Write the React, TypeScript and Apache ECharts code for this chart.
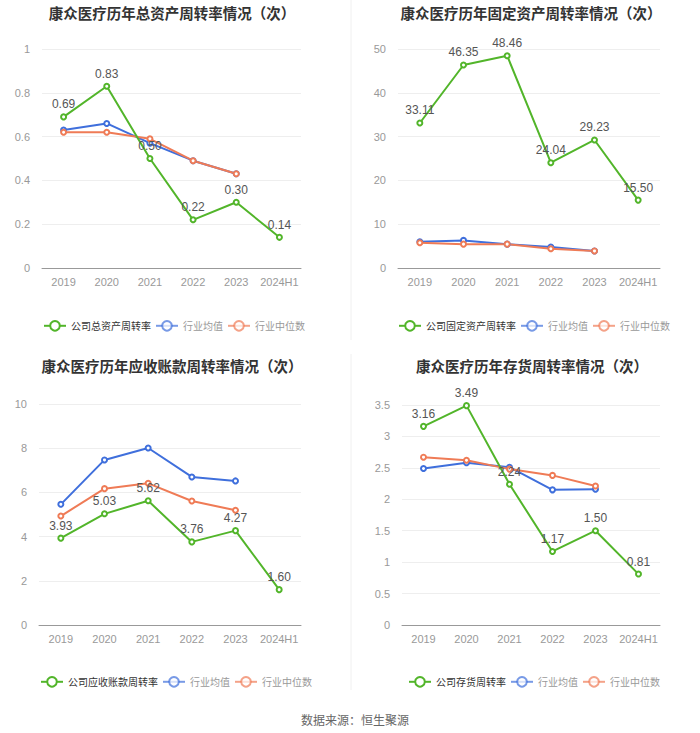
import React, { useEffect, useRef } from "react";
import * as echarts from "echarts";

const categories = ["2019", "2020", "2021", "2022", "2023", "2024H1"];

const titles = [
  "康众医疗历年总资产周转率情况（次）",
  "康众医疗历年固定资产周转率情况（次）",
  "康众医疗历年应收账款周转率情况（次）",
  "康众医疗历年存货周转率情况（次）",
];
const companyNames = ["公司总资产周转率", "公司固定资产周转率", "公司应收账款周转率", "公司存货周转率"];

const totalAsset = [0.69, 0.83, 0.5, 0.22, 0.3, 0.14];
const totalAssetAvg = [0.63, 0.66, 0.57, 0.49, 0.43];
const totalAssetMedian = [0.62, 0.62, 0.59, 0.49, 0.43];

const fixedAsset = [33.11, 46.35, 48.46, 24.04, 29.23, 15.5];
const fixedAssetAvg = [6.0, 6.3, 5.45, 4.8, 3.9];
const fixedAssetMedian = [5.75, 5.45, 5.45, 4.4, 3.9];

const receivable = [3.93, 5.03, 5.62, 3.76, 4.27, 1.6];
const receivableAvg = [5.46, 7.47, 8.01, 6.7, 6.52];
const receivableMedian = [4.93, 6.17, 6.41, 5.61, 5.19];

const inventory = [3.16, 3.49, 2.24, 1.17, 1.5, 0.81];
const inventoryAvg = [2.49, 2.58, 2.51, 2.15, 2.16];
const inventoryMedian = [2.67, 2.62, 2.48, 2.38, 2.21];

const yMax = [1, 50, 10, 3.5];
const yInterval = [0.2, 10, 2, 0.5];

const GREEN = "#52b52a";
const BLUE = "#3f6fdc";
const ORANGE = "#ef7b56";

export default function App() {
  const ref = useRef<HTMLDivElement>(null);
  useEffect(() => {
    if (!ref.current) return;
    const chart = echarts.init(ref.current, null, { renderer: "svg" });
    const company = [totalAsset, fixedAsset, receivable, inventory];
    const avg = [totalAssetAvg, fixedAssetAvg, receivableAvg, inventoryAvg];
    const med = [totalAssetMedian, fixedAssetMedian, receivableMedian, inventoryMedian];
    const grids = [
      { left: 42, right: 399, top: 49, bottom: 465 },
      { left: 398, right: 40, top: 49, bottom: 465 },
      { left: 39, right: 399, top: 404, bottom: 108 },
      { left: 402, right: 40, top: 405, bottom: 108 },
    ];
    const titleCenters = [167, 526, 167, 527];
    const titleTops = [0, 0, 353, 353];
    const legendLefts = [38, 393, 35, 403];
    const legendTops = [315, 315, 671, 671];

    const option: any = {
      animation: false,
      backgroundColor: "#ffffff",
      title: [
        ...titles.map((t, i) => ({
          text: t,
          left: titleCenters[i],
          top: titleTops[i],
          textAlign: "center",
          textStyle: { fontSize: 14.5, fontWeight: "bold", color: "#333", fontFamily: "Noto Sans CJK SC" },
        })),
        {
          text: "数据来源：恒生聚源",
          left: 350,
          top: 708,
          textAlign: "center",
          textStyle: { fontSize: 12, fontWeight: "normal", color: "#666", fontFamily: "Noto Sans CJK SC" },
        },
      ],
      legend: titles.map((_, i) => ({
        left: legendLefts[i],
        top: legendTops[i],
        width: 330,
        itemWidth: 22,
        itemHeight: 12,
        itemGap: 4,
        textStyle: { fontSize: 10, color: "#333", fontFamily: "Noto Sans CJK SC" },
        data: [
          { name: companyNames[i] },
          { name: "行业均值", textStyle: { color: "#999" }, itemStyle: { opacity: 0.7 }, lineStyle: { opacity: 0.7 } },
          { name: "行业中位数", textStyle: { color: "#999" }, itemStyle: { opacity: 0.7 }, lineStyle: { opacity: 0.7 } },
        ],
        seriesIndex: [i * 3, i * 3 + 1, i * 3 + 2],
      })),
      grid: grids.map((g) => ({ ...g, containLabel: false })),
      xAxis: grids.map((_, i) => ({
        type: "category",
        gridIndex: i,
        data: categories,
        boundaryGap: true,
        axisLine: { lineStyle: { color: "#999" } },
        axisTick: { alignWithLabel: true, lineStyle: { color: "#999" } },
        axisLabel: { color: "#999", fontSize: 11, margin: 8, interval: 0 },
      })),
      yAxis: grids.map((_, i) => ({
        type: "value",
        gridIndex: i,
        min: 0,
        max: yMax[i],
        interval: yInterval[i],
        axisLine: { show: false },
        axisTick: { show: false },
        axisLabel: { color: "#999", fontSize: 11, margin: 12 },
        splitLine: { lineStyle: { color: "#eeeeee" } },
      })),
      series: [] as any[],
    };
    for (let i = 0; i < 4; i++) {
      option.series.push({
        name: companyNames[i],
        type: "line",
        xAxisIndex: i,
        yAxisIndex: i,
        data: company[i],
        symbol: "emptyCircle",
        symbolSize: 5,
        color: GREEN,
        lineStyle: { width: 2, color: GREEN },
        itemStyle: { color: GREEN },
        z: 3,
        label: {
          show: true,
          position: "top",
          distance: 3,
          color: "#555",
          fontSize: 12,
          formatter: (p: any) => Number(p.value).toFixed(2),
        },
      });
      option.series.push({
        name: "行业均值",
        type: "line",
        xAxisIndex: i,
        yAxisIndex: i,
        data: avg[i],
        symbol: "emptyCircle",
        symbolSize: 5,
        color: BLUE,
        lineStyle: { width: 2, color: BLUE },
        itemStyle: { color: BLUE },
        z: 2,
      });
      option.series.push({
        name: "行业中位数",
        type: "line",
        xAxisIndex: i,
        yAxisIndex: i,
        data: med[i],
        symbol: "emptyCircle",
        symbolSize: 5,
        color: ORANGE,
        lineStyle: { width: 2, color: ORANGE },
        itemStyle: { color: ORANGE },
        z: 2,
      });
    }
    option.graphic = [
      { type: "line", shape: { x1: 351, y1: 0, x2: 351, y2: 340 }, style: { stroke: "#f0f0f0", lineWidth: 1 } },
      { type: "line", shape: { x1: 351, y1: 354, x2: 351, y2: 690 }, style: { stroke: "#f0f0f0", lineWidth: 1 } },
    ];
    chart.setOption(option);
    return () => chart.dispose();
  }, []);
  return (
    <div
      ref={ref}
      style={{ position: "absolute", left: 0, top: 0, width: 700, height: 733 }}
    />
  );
}
